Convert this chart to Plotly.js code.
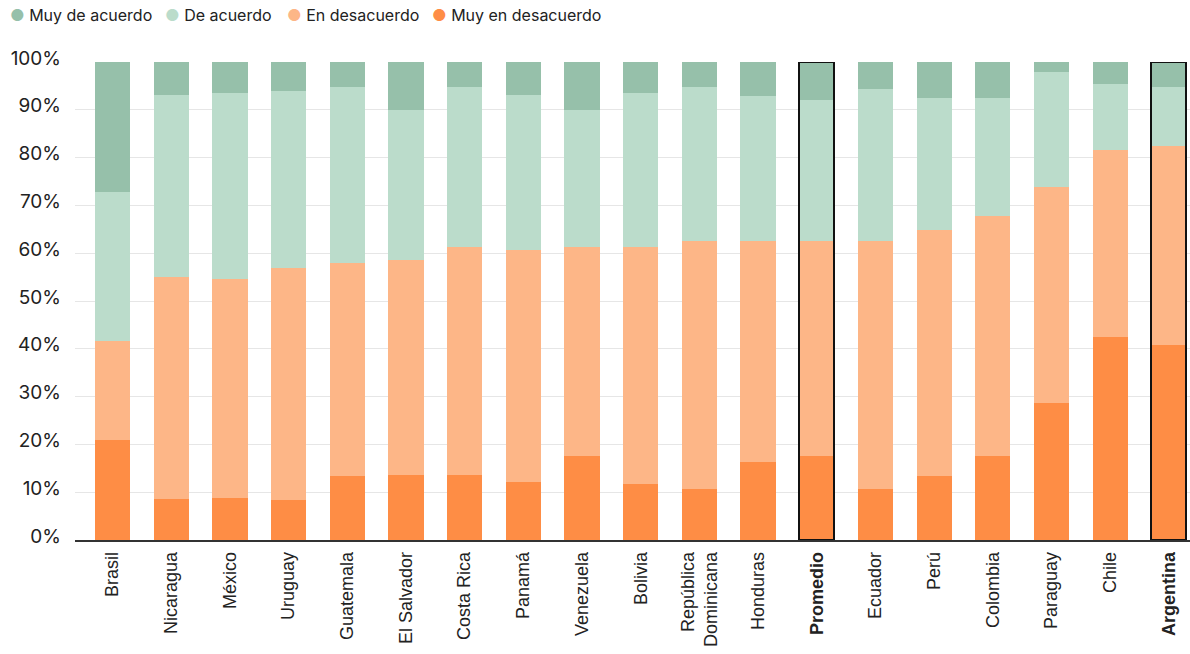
<!DOCTYPE html>
<html>
<head>
<meta charset="utf-8">
<script src="https://cdn.plot.ly/plotly-3.0.1.min.js"></script>
<style>html,body{margin:0;padding:0;background:#fff;}#chart{width:1190px;height:654px;}</style>
</head>
<body>
<div id="chart"></div>
<script>
const categories = ["Brasil","Nicaragua","México","Uruguay","Guatemala","El Salvador","Costa Rica","Panamá","Venezuela","Bolivia","República<br>Dominicana","Honduras","<b>Promedio</b>","Ecuador","Perú","Colombia","Paraguay","Chile","<b>Argentina</b>"];
const highlighted = ["<b>Promedio</b>","<b>Argentina</b>"];
const muyEnDesacuerdo = [21.0, 8.5, 8.7, 8.3, 13.3, 13.7, 13.7, 12.1, 17.5, 11.8, 10.6, 16.4, 17.5, 10.6, 13.3, 17.5, 28.6, 42.4, 40.7];
const enDesacuerdo    = [20.7, 46.5, 46.0, 48.7, 44.7, 44.8, 47.5, 48.5, 43.7, 49.4, 52.0, 46.2, 45.1, 52.0, 51.6, 50.2, 45.3, 39.1, 41.8];
const deAcuerdo       = [31.0, 38.0, 38.9, 37.0, 36.8, 31.4, 33.6, 32.6, 28.7, 32.4, 32.2, 30.2, 29.5, 31.8, 27.6, 24.8, 24.1, 14.0, 12.3];
const muyDeAcuerdo    = [27.3, 7.0, 6.4, 6.0, 5.2, 10.1, 5.2, 6.8, 10.1, 6.4, 5.2, 7.2, 7.9, 5.6, 7.5, 7.5, 2.0, 4.5, 5.2];
const seriesNames = ["Muy de acuerdo","De acuerdo","En desacuerdo","Muy en desacuerdo"];
const yTickVals = [0,10,20,30,40,50,60,70,80,90,100];
const yTickText = ["0%","10%","20%","30%","40%","50%","60%","70%","80%","90%","100%"];

const colors = {"Muy de acuerdo":"#96c0aa","De acuerdo":"#bbdccb","En desacuerdo":"#fdb687","Muy en desacuerdo":"#fe8d45"};

function barTrace(name, vals){
  return {type:"bar", name:name, x:categories, y:vals, marker:{color:colors[name], line:{width:0}},
          showlegend:false, hovertemplate:"%{x}: %{y:.1f}%<extra>"+name+"</extra>"};
}
const traces = [
  barTrace("Muy en desacuerdo", muyEnDesacuerdo),
  barTrace("En desacuerdo", enDesacuerdo),
  barTrace("De acuerdo", deAcuerdo),
  barTrace("Muy de acuerdo", muyDeAcuerdo)
];
// outline for highlighted bars
const totals = categories.map((c,i)=> highlighted.includes(c) ? muyEnDesacuerdo[i]+enDesacuerdo[i]+deAcuerdo[i]+muyDeAcuerdo[i] : null);
traces.push({type:"bar", x:categories, y:totals, xaxis:"x2", yaxis:"y",
  marker:{color:"rgba(0,0,0,0)", line:{color:"#111", width:2}}, showlegend:false, hoverinfo:"skip"});

// legend drawn as text entries with coloured circle glyphs
const plotL = 75, plotW = 1115, plotB = 540.5, plotH = 478.2;
const legendPx = [9, 164, 286, 431];
const annotations = seriesNames.map((n,i)=>({
  xref:"paper", yref:"paper", x:(legendPx[i]-plotL)/plotW, y:(plotB-15)/plotH,
  xanchor:"left", yanchor:"middle", showarrow:false, borderpad:0,
  text:'<span style="color:'+colors[n]+'">●</span> '+n,
  font:{family:"Inter, 'DejaVu Sans', sans-serif", size:16, color:"#222"}
}));

const xr = [-0.64, 18.36];
const layout = {
  width:1190, height:654,
  margin:{l:75, r:0, t:62, b:114, pad:0},
  paper_bgcolor:"#fff", plot_bgcolor:"#fff",
  barmode:"stack", bargap:0.40, showlegend:false,
  annotations:annotations,
  xaxis:{type:"category", range:xr, showgrid:false, showline:true, linecolor:"#333", linewidth:1.5,
         ticks:"", tickangle:-90, ticklabelstandoff:3,
         tickfont:{family:"'Liberation Sans', Arial, sans-serif", size:18, color:"#222"},
         fixedrange:true, automargin:false},
  xaxis2:{type:"category", range:xr, overlaying:"x", matches:"x", showgrid:false, showline:false,
          showticklabels:false, ticks:"", zeroline:false},
  yaxis:{range:[0,100], tickvals:yTickVals, ticktext:yTickText, showgrid:true, gridcolor:"#e6e6e6", gridwidth:1,
         zeroline:false, ticks:"", ticklabelstandoff:13, ticklabelshift:-4,
         tickfont:{family:"Inter, 'Noto Sans', sans-serif", size:19, color:"#222"}, fixedrange:true, automargin:false},
  hovermode:"closest"
};

Plotly.newPlot("chart", traces, layout, {displayModeBar:false, responsive:false});
</script>
</body>
</html>
